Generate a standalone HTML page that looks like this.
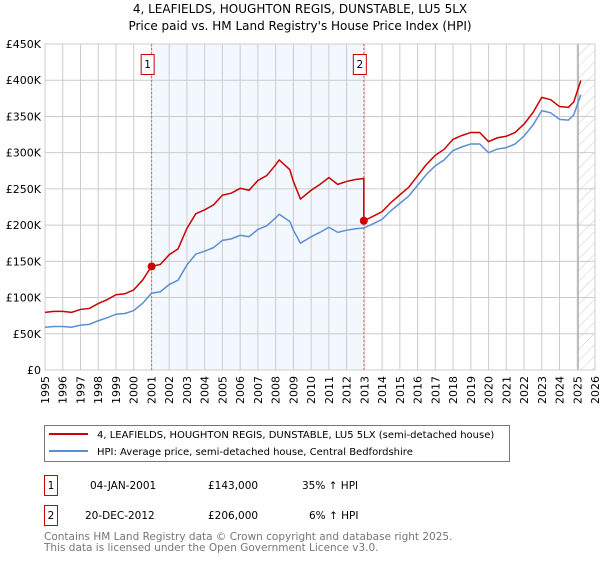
<!DOCTYPE html>
<html><head><meta charset="utf-8"><style>
body{margin:0;background:#fff;font-family:"DejaVu Sans","Liberation Sans",sans-serif;}
svg text{font-family:"DejaVu Sans","Liberation Sans",sans-serif;}
</style></head><body>
<svg id="chart" width="600" height="560" xmlns="http://www.w3.org/2000/svg">
<text x="300" y="13" text-anchor="middle" font-size="12">4, LEAFIELDS, HOUGHTON REGIS, DUNSTABLE, LU5 5LX</text>
<text x="300" y="30" text-anchor="middle" font-size="12">Price paid vs. HM Land Registry's House Price Index (HPI)</text>
<g id="plot"></g>
<rect x="44.5" y="425.5" width="465" height="36" fill="#fff" stroke="#777"/>
<line x1="49" y1="434" x2="88" y2="434" stroke="#cc0000" stroke-width="2"/>
<text x="97" y="438" font-size="10">4, LEAFIELDS, HOUGHTON REGIS, DUNSTABLE, LU5 5LX (semi-detached house)</text>
<line x1="49" y1="451" x2="88" y2="451" stroke="#5b8fd0" stroke-width="2"/>
<text x="97" y="455" font-size="10">HPI: Average price, semi-detached house, Central Bedfordshire</text>
<g font-size="10.5">
<rect x="44.5" y="475.5" width="13" height="20" fill="none" stroke="#cc0000"/>
<text x="51" y="489" text-anchor="middle">1</text>
<text x="90" y="489">04-JAN-2001</text>
<text x="208" y="489">£143,000</text>
<text x="302" y="489">35% ↑ HPI</text>
<rect x="44.5" y="505.5" width="13" height="20" fill="none" stroke="#cc0000"/>
<text x="51" y="519" text-anchor="middle">2</text>
<text x="85" y="519">20-DEC-2012</text>
<text x="208" y="519">£206,000</text>
<text x="309" y="519">6% ↑ HPI</text>
</g>
<text x="44" y="540" font-size="10.5" fill="#777">Contains HM Land Registry data © Crown copyright and database right 2025.</text>
<text x="44" y="551" font-size="10.5" fill="#777">This data is licensed under the Open Government Licence v3.0.</text>
</svg>
<script>
const hpiYears=[1995,1995.5,1996,1996.5,1997,1997.5,1998,1998.5,1999,1999.5,2000,2000.5,2001,2001.5,2002,2002.5,2003,2003.5,2004,2004.5,2005,2005.5,2006,2006.5,2007,2007.5,2008,2008.2,2008.8,2009,2009.4,2010,2010.5,2011,2011.5,2012,2012.5,2012.97,2013.5,2014,2014.5,2015,2015.5,2016,2016.5,2017,2017.5,2018,2018.5,2019,2019.5,2020,2020.5,2021,2021.5,2022,2022.5,2023,2023.5,2024,2024.5,2024.8,2025.2];
const hpiValues=[59,60,60,59,62,63,68,72,77,78,82,92,106,108,118,124,145,160,164,169,179,181,186,184,194,199,210,215,205,193,175,184,190,197,190,193,195,196,202,208,220,230,240,255,270,282,290,303,308,312,312,300,305,307,312,323,338,358,355,346,345,352,380];
const saleDates=[2001.01,2012.97];
const salePrices=[143,206];
const yTicks=[0,50,100,150,200,250,300,350,400,450];
const xTicks=[1995,1996,1997,1998,1999,2000,2001,2002,2003,2004,2005,2006,2007,2008,2009,2010,2011,2012,2013,2014,2015,2016,2017,2018,2019,2020,2021,2022,2023,2024,2025,2026];
const NS='http://www.w3.org/2000/svg';
const L=45,R=595,T=44,B=370;
const X=y=>L+(y-1995)/(2026-1995)*(R-L);
const Y=v=>B-v/450*(B-T);
const g=document.getElementById('plot');
function mk(t,a){const e=document.createElementNS(NS,t);for(const k in a)e.setAttribute(k,a[k]);g.appendChild(e);return e;}
let e=mk('rect',{x:X(saleDates[0]),y:T,width:X(saleDates[1])-X(saleDates[0]),height:B-T,fill:'#eef3fd',opacity:0.7});


xTicks.forEach(t=>{const l=mk('line',{x1:X(t),y1:T,x2:X(t),y2:B,stroke:'#ccc'});


const tx=mk('text',{x:0,y:0,'font-size':11,'text-anchor':'end',transform:`translate(${X(t)+4},${B+6}) rotate(-90)`});tx.textContent=t;

});
yTicks.forEach(t=>{const l=mk('line',{x1:L,y1:Y(t),x2:R,y2:Y(t),stroke:'#ccc'});


const tx=mk('text',{x:L-4,y:Y(t)+4,'font-size':11,'text-anchor':'end'});tx.textContent=t===0?'£0':'£'+t+'K';

});
const defs=mk('defs',{});defs.innerHTML='<pattern id="h" width="8" height="8" patternUnits="userSpaceOnUse" patternTransform="rotate(45)"><line x1="0" y1="0" x2="0" y2="8" stroke="#ccc"/></pattern>';
e=mk('rect',{x:X(2025.05),y:T,width:R-X(2025.05),height:B-T,fill:'url(#h)'});


e=mk('line',{x1:X(2025.05),y1:T,x2:X(2025.05),y2:B,stroke:'#999'});


e=mk('rect',{x:L,y:T,width:R-L,height:B-T,fill:'none',stroke:'#ccc'});


function hpiAt(t){for(let i=1;i<hpiYears.length;i++)if(t<=hpiYears[i]){const f=(t-hpiYears[i-1])/(hpiYears[i]-hpiYears[i-1]);return hpiValues[i-1]+f*(hpiValues[i]-hpiValues[i-1]);}return hpiValues[hpiValues.length-1];}
saleDates.forEach((d,i)=>{const l=mk('line',{x1:X(d),y1:T,x2:X(d),y2:B,stroke:'#e06060','stroke-dasharray':'2,2'});


const r=mk('rect',{x:X(d)-10.5,y:54.5,width:13,height:20,fill:'#fff',stroke:'#cc0000'});


const tx=mk('text',{x:X(d)-4,y:68,'font-size':10.5,'text-anchor':'middle'});tx.textContent=i+1;

});
const bp=hpiYears.map((t,i)=>X(t)+','+Y(hpiValues[i])).join(' ');
e=mk('polyline',{points:bp,fill:'none',stroke:'#5b8fd0','stroke-width':1.5});


const r1=salePrices[0]/hpiAt(saleDates[0]),r2=salePrices[1]/hpiAt(saleDates[1]);
const rp=[];hpiYears.forEach((t,i)=>{if(t<saleDates[1])rp.push([t,hpiValues[i]*r1]);});
rp.push([saleDates[1],hpiAt(saleDates[1])*r1]);rp.push([saleDates[1],salePrices[1]]);
hpiYears.forEach((t,i)=>{if(t>saleDates[1])rp.push([t,hpiValues[i]*r2]);});
e=mk('polyline',{points:rp.map(p=>X(p[0])+','+Y(p[1])).join(' '),fill:'none',stroke:'#cc0000','stroke-width':1.5});


saleDates.forEach((d,i)=>{const c=mk('circle',{cx:X(d),cy:Y(salePrices[i]),r:4,fill:'#cc0000'});

});
</script>
</body></html>
